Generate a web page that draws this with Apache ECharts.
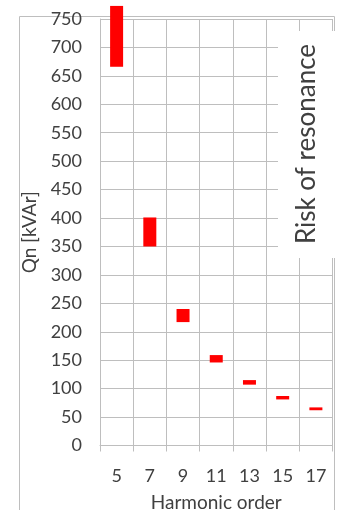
<!DOCTYPE html>
<html><head><meta charset="utf-8">
<script src="https://cdn.jsdelivr.net/npm/echarts@6/dist/echarts.min.js"></script>
<style>html,body{margin:0;padding:0;background:#fff}#c{width:337px;height:510px}</style>
</head><body><div id="c"></div>
<script>
var categories = ['5','7','9','11','13','15','17'];
var rangeLow  = [666, 350, 217, 146, 107, 81, 62];
var rangeHigh = [773, 401, 240, 159, 115, 87, 67];
var yTicks = {min: 0, max: 750, interval: 50};

var base = rangeLow;
var span = rangeHigh.map(function(h, i){ return h - rangeLow[i]; });
var txt = '#404040', gridC = '#bebebe', font = 'Lato';

var chart = echarts.init(document.getElementById('c'), null, {renderer: 'canvas'});
chart.setOption({
  animation: false,
  backgroundColor: '#fff',
  grid: {left: 100, right: 4.5, top: 19, bottom: 64.5, containLabel: false, outerBoundsMode: 'none'},
  xAxis: {
    type: 'category', data: categories, boundaryGap: true,
    name: 'Harmonic order', nameLocation: 'middle', nameGap: 48,
    nameTextStyle: {color: txt, fontSize: 19, fontFamily: font},
    axisLine: {show: true, lineStyle: {color: gridC, width: 1}},
    axisTick: {show: true, length: 6, lineStyle: {color: gridC}},
    axisLabel: {color: txt, fontSize: 18, fontFamily: font, margin: 22},
    splitLine: {show: true, lineStyle: {color: gridC, width: 1}}
  },
  yAxis: {
    type: 'value', min: yTicks.min, max: yTicks.max, interval: yTicks.interval,
    name: 'Qn [kVAr]', nameLocation: 'middle', nameGap: 56,
    nameTextStyle: {color: txt, fontSize: 19, fontFamily: font},
    axisLine: {show: true, lineStyle: {color: gridC}},
    axisTick: {show: false},
    axisLabel: {color: txt, fontSize: 18, fontFamily: font, margin: 18},
    splitLine: {show: true, lineStyle: {color: gridC, width: 1}}
  },
  series: [
    {type: 'bar', stack: 'r', data: base, barWidth: 13, itemStyle: {color: 'transparent'}, silent: true},
    {type: 'bar', stack: 'r', data: span, barWidth: 13, clip: false, itemStyle: {color: '#ff0000'}}
  ],
  graphic: [
    {type: 'rect', left: 17, top: 14, shape: {width: 315, height: 520}, style: {fill: 'none', stroke: gridC, lineWidth: 1}, z: 0, silent: true},
    {type: 'rect', shape: {x: 278, y: 31, width: 60, height: 227}, style: {fill: '#fff'}, z: 100},
    {type: 'text', x: 307, y: 144, rotation: Math.PI/2,
     style: {text: 'Risk of resonance', fill: txt, fontSize: 26, fontFamily: font, textAlign: 'center', textVerticalAlign: 'middle'}, z: 101}
  ]
});
</script></body></html>
